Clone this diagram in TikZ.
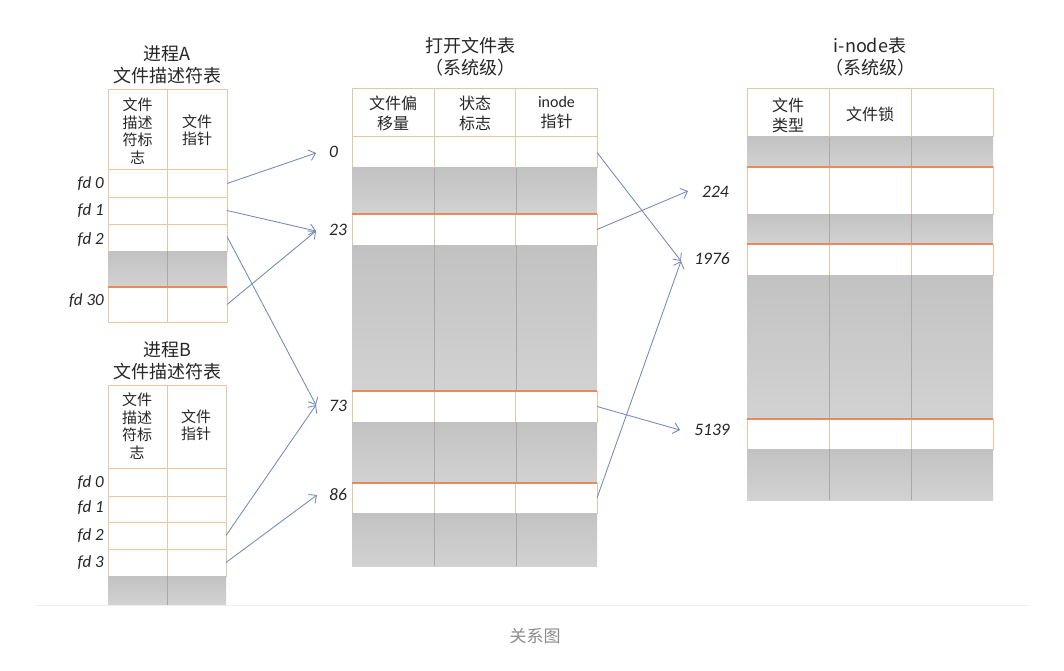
\documentclass[tikz,border=0pt]{standalone}
\usepackage{fontspec}
\setmainfont{Carlito}
\newfontfamily\cjk{Noto Sans CJK SC}
\usetikzlibrary{calc,arrows.meta}
\definecolor{tanc}{HTML}{E8C7A0}
\definecolor{orc}{HTML}{E8895E}
\definecolor{grline}{HTML}{A9A9A9}
\definecolor{arrc}{HTML}{7389BC}
\definecolor{txt}{HTML}{262626}
\definecolor{gtop}{HTML}{C2C2C2}
\definecolor{gbot}{HTML}{D2D2D2}
\newcommand\mkcell[6]{\node[#6, anchor=north west, minimum width={#4-#2}, minimum height={#5-#3}] (#1) at (#2,#3) {};}
\newcommand\mkcols[3]{\foreach \f in {#2} {\draw[#3] ($(#1.north west)!\f!(#1.north east)$) -- ($(#1.south west)!\f!(#1.south east)$);}}
\newcommand\orangetop[1]{\draw[orc, line width=1.1pt] (#1.north west) -- (#1.north east);}
\begin{document}
\begin{tikzpicture}[x=1pt,y=-1pt,
  cellbase/.style={inner sep=0pt, outer sep=0pt},
  whiterow/.style={cellbase, draw=tanc, line width=1pt, fill=white},
  grayrow/.style={cellbase, top color=gtop, bottom color=gbot},
  tcol/.style={tanc, line width=1pt},
  gcol/.style={grline, line width=0.7pt},
  hdr/.style={align=center, font=\cjk\fontsize{15}{17.5}\selectfont, text=txt, inner sep=0pt},
  hdrb/.style={align=center, font=\cjk\fontsize{16}{20}\selectfont, text=txt, inner sep=0pt},
  title/.style={align=center, font=\cjk\fontsize{18}{22}\selectfont, text=txt, inner sep=0pt},
  fdl/.style={anchor=east, font=\itshape\fontsize{17}{19}\selectfont, text=txt, inner sep=0pt},
  numl/.style={font=\itshape\fontsize{17.5}{19}\selectfont, text=txt, inner sep=0pt},
  arr/.style={draw=arrc, line width=0.85pt, -{Straight Barb[length=6pt,width=11pt]}}
]
\useasboundingbox (0,0) rectangle (1064,671);
\fill[white] (0,0) rectangle (1064,671);

% ---------- Table A ----------
\mkcell{Ah}{108}{90}{227}{170}{whiterow}
\mkcell{A0}{108}{170}{227}{197}{whiterow}
\mkcell{A1}{108}{197}{227}{224}{whiterow}
\mkcell{A2}{108}{224}{227}{251}{whiterow}
\mkcell{Ag}{108}{251}{227}{287}{grayrow}
\mkcell{A30}{108}{287}{227}{322}{whiterow}
\foreach \r in {Ah,A0,A1,A2,A30} {\mkcols{\r}{0.5}{tcol}}
\mkcols{Ag}{0.5}{gcol}
\orangetop{A30}
\node[hdr] (Ah1) at (137.5,131) {文件\\描述\\符标\\志};
\node[hdr] (Ah2) at (197,130) {文件\\指针};
\node[title] (At) at (167,65) {进程A\\文件描述符表};
\node[fdl] (fA0) at (104,184) {fd 0};
\node[fdl] (fA1) at (104,211) {fd 1};
\node[fdl] (fA2) at (104,240) {fd 2};
\node[fdl] (fA30) at (104,301) {fd 30};

% ---------- Table B ----------
\mkcell{Bh}{108}{385}{226}{468}{whiterow}
\mkcell{B0}{108}{468}{226}{496}{whiterow}
\mkcell{B1}{108}{496}{226}{522}{whiterow}
\mkcell{B2}{108}{522}{226}{549}{whiterow}
\mkcell{B3}{108}{549}{226}{576}{whiterow}
\mkcell{Bg}{108}{576}{226}{605}{grayrow}
\foreach \r in {Bh,B0,B1,B2,B3} {\mkcols{\r}{0.5}{tcol}}
\mkcols{Bg}{0.5}{gcol}
\node[hdr] (Bh1) at (137,426) {文件\\描述\\符标\\志};
\node[hdr] (Bh2) at (196,425) {文件\\指针};
\node[title] (Bt) at (167,361) {进程B\\文件描述符表};
\node[fdl] (fB0) at (104,483) {fd 0};
\node[fdl] (fB1) at (104,508) {fd 1};
\node[fdl] (fB2) at (104,536) {fd 2};
\node[fdl] (fB3) at (104,563) {fd 3};

% ---------- Open file table ----------
\mkcell{Oh}{352}{89}{597}{137}{whiterow}
\mkcell{O0}{352}{137}{597}{168}{whiterow}
\mkcell{Og1}{352}{168}{597}{214}{grayrow}
\mkcell{O23}{352}{214}{597}{245}{whiterow}
\mkcell{Og2}{352}{245}{597}{391}{grayrow}
\mkcell{O73}{352}{391}{597}{422}{whiterow}
\mkcell{Og3}{352}{422}{597}{483}{grayrow}
\mkcell{O86}{352}{483}{597}{513}{whiterow}
\mkcell{Og4}{352}{513}{597}{566}{grayrow}
\foreach \r in {Oh,O0,O23,O73,O86} {\mkcols{\r}{0.335,0.669}{tcol}}
\foreach \r in {Og1,Og2,Og3,Og4} {\mkcols{\r}{0.335,0.669}{gcol}}
\orangetop{O23}\orangetop{O73}\orangetop{O86}
\node[hdrb] (Oh1) at (393,113) {文件偏\\移量};
\node[hdrb] (Oh2) at (475,113) {状态\\标志};
\node[hdrb] (Oh3) at (556.5,113) {{\fontspec{Carlito}inode}\\指针};
\node[title] (Ot) at (470,57) {打开文件表\\（系统级）};
\node[numl, anchor=west] (l0) at (329,152) {0};
\node[numl, anchor=west] (l23) at (329,230) {23};
\node[numl, anchor=west] (l73) at (329,406) {73};
\node[numl, anchor=west] (l86) at (329,495) {86};

% ---------- i-node table ----------
\mkcell{Ih}{747}{89}{993}{137}{whiterow}
\mkcell{Ig1}{747}{137}{993}{167}{grayrow}
\mkcell{I224}{747}{167}{993}{214}{whiterow}
\mkcell{Ig2}{747}{214}{993}{244}{grayrow}
\mkcell{I1976}{747}{244}{993}{275}{whiterow}
\mkcell{Ig3}{747}{275}{993}{419}{grayrow}
\mkcell{I5139}{747}{419}{993}{449}{whiterow}
\mkcell{Ig4}{747}{449}{993}{500}{grayrow}
\foreach \r in {Ih,I224,I1976,I5139} {\mkcols{\r}{0.3333,0.6667}{tcol}}
\foreach \r in {Ig1,Ig2,Ig3,Ig4} {\mkcols{\r}{0.3333,0.6667}{gcol}}
\orangetop{I224}\orangetop{I1976}\orangetop{I5139}
\node[hdrb] (Ih1) at (788,115) {文件\\类型};
\node[hdrb] (Ih2) at (870,114) {文件锁};
\node[title] (It) at (870,57) {i-node表\\（系统级）};
\node[numl, anchor=east] (l224) at (729,192) {224};
\node[numl, anchor=east] (l1976) at (730,259) {1976};
\node[numl, anchor=east] (l5139) at (730,430) {5139};

% ---------- arrow targets ----------
\coordinate (t0) at (316,153);
\coordinate (t23) at (316,231);
\coordinate (t73) at (316,405);
\coordinate (t86) at (317,495);
\coordinate (t224) at (688,191);
\coordinate (t1976) at (681,261);
\coordinate (t5139) at (680,430);

% ---------- arrows ----------
\draw[arr] (A0.east) -- (t0);
\draw[arr] (A1.east) -- (t23);
\draw[arr] ($(A2.east)+(0,-1)$) -- (t73);
\draw[arr] (A30.east) -- (t23);
\draw[arr] (B2.east) -- (t73);
\draw[arr] (B3.east) -- (t86);
\draw[arr] (O0.east) -- (t1976);
\draw[arr] (O23.east) -- (t224);
\draw[arr] (O73.east) -- (t5139);
\draw[arr] (O86.east) -- (t1976);

% ---------- footer ----------
\coordinate (fl) at (35,605);
\coordinate (fr) at (1030,605);
\draw[black!6, line width=1pt] (fl) -- (fr);
\node[font=\cjk\fontsize{17}{20}\selectfont, text=black!45, inner sep=0pt] (cap) at (535,636) {关系图};
\end{tikzpicture}
\end{document}
